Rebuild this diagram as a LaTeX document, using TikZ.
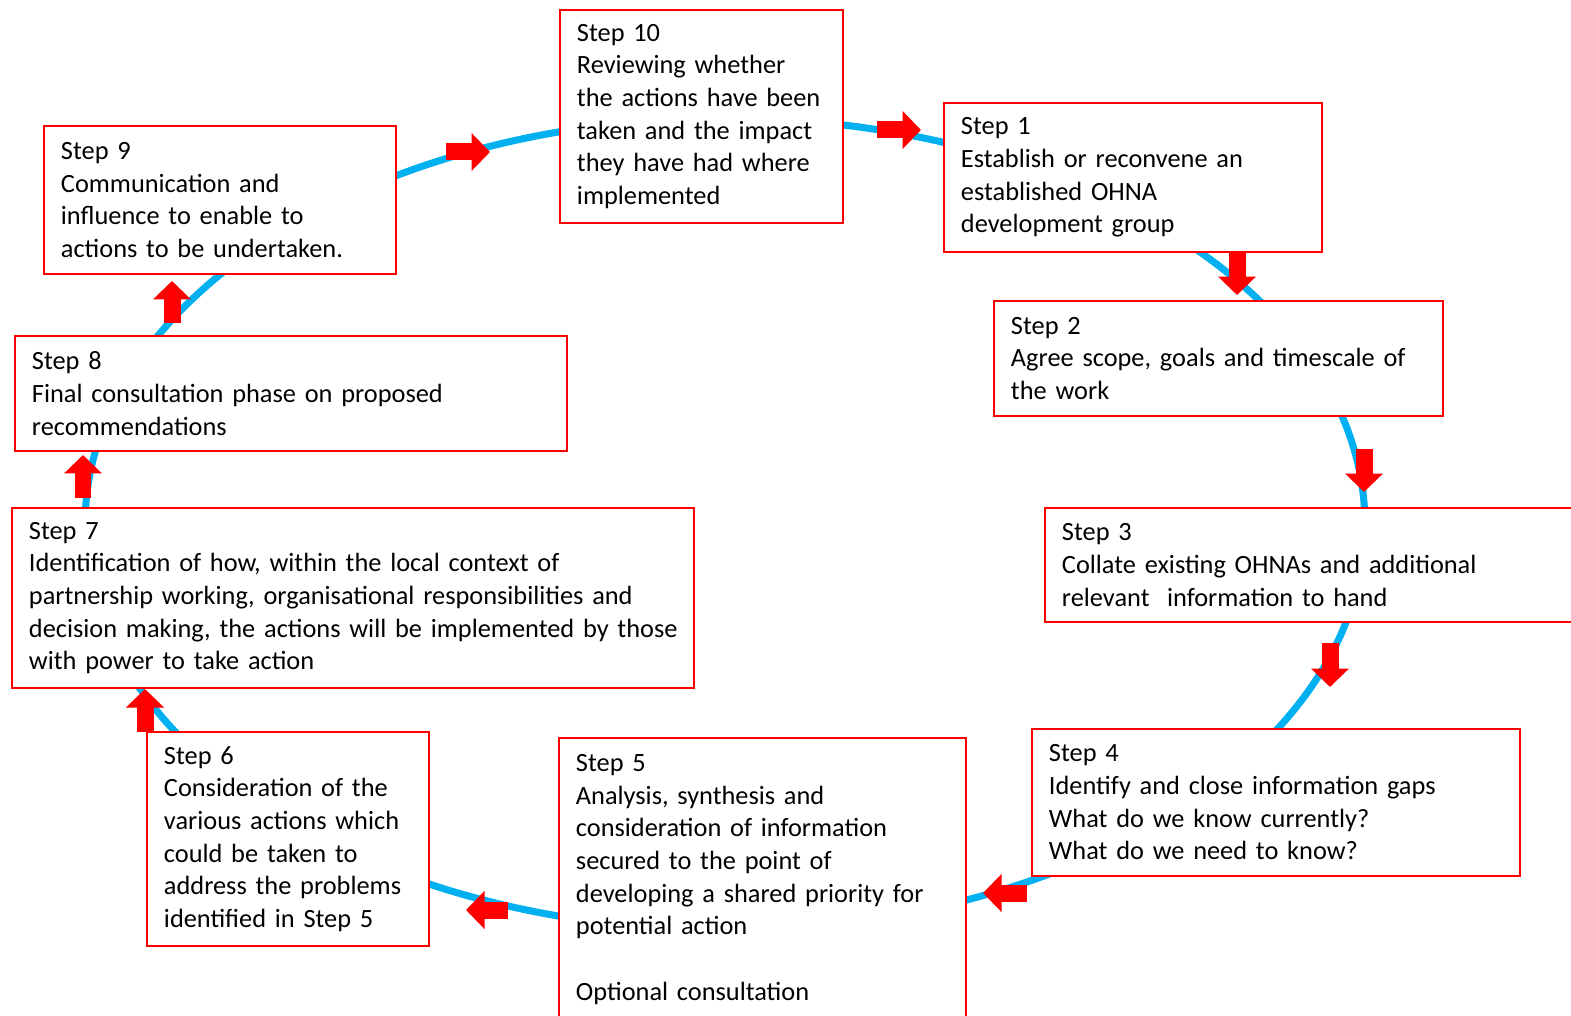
\documentclass[tikz,border=0pt]{standalone}
\usepackage{fontspec}
\setmainfont{Carlito}
\usetikzlibrary{arrows.meta}
\definecolor{cyclecyan}{RGB}{0,176,240}
\begin{document}
\begin{tikzpicture}[x=0.02cm,y=-0.02cm,
    stepbox/.style={draw=red,line width=1.1pt,fill=white,anchor=north west,align=left,
      inner xsep=0.34cm,inner ysep=0pt,font=\fontsize{15}{18.6}\selectfont},
    flow/.style={red,line width=0.34cm,-{Triangle[width=0.74cm,length=0.37cm]}}]
  \useasboundingbox (0,0) rectangle (1571,1016);
  \clip (0,0) rectangle (1571,1016);
  \draw[cyclecyan,line width=4pt] (725,524) ellipse [x radius=12.8cm,y radius=8.12cm];
  \node[stepbox,text width=4.98cm,minimum height=4.26cm] (s10) at (559,9)
    {Step 10\\Reviewing whether\\the actions have been\\taken and the impact\\they have had where\\implemented};
  \node[stepbox,text width=6.88cm,minimum height=2.98cm] (s1) at (943,102)
    {Step 1\\Establish or reconvene an\\established OHNA\\development group};
  \node[stepbox,text width=8.30cm,minimum height=2.30cm] (s2) at (993,300)
    {Step 2\\Agree scope, goals and timescale of\\the work};
  \node[stepbox,text width=10.24cm,minimum height=2.28cm] (s3) at (1044,507)
    {Step 3\\Collate existing OHNAs and additional\\relevant\ \ information to hand};
  \node[stepbox,text width=9.08cm,minimum height=2.94cm] (s4) at (1031,728)
    {Step 4\\Identify and close information gaps\\What do we know currently?\\What do we need to know?};
  \node[stepbox,text width=7.46cm,minimum height=5.66cm] (s5) at (558,737)
    {Step 5\\Analysis, synthesis and\\consideration of information\\secured to the point of\\developing a shared priority for\\potential action\\[18.6pt]Optional consultation};
  \node[stepbox,text width=4.96cm,minimum height=4.28cm] (s6) at (146,731)
    {Step 6\\Consideration of the\\various actions which\\could be taken to\\address the problems\\identified in Step 5};
  \node[stepbox,text width=12.96cm,minimum height=3.60cm] (s7) at (11,507)
    {Step 7\\Identification of how, within the local context of\\partnership working, organisational responsibilities and\\\mbox{decision making, the actions will be implemented by those}\\with power to take action};
  \node[stepbox,text width=10.36cm,minimum height=2.30cm] (s8) at (14,335)
    {Step 8\\Final consultation phase on proposed\\recommendations};
  \node[stepbox,text width=6.36cm,minimum height=2.96cm] (s9) at (43,125)
    {Step 9\\Communication and\\influence to enable to\\actions to be undertaken.};
  \coordinate (t9) at (446,152);  \coordinate (h9) at (490,152);
  \coordinate (t10) at (877,130); \coordinate (h10) at (921,130);
  \coordinate (t1) at (1237,252); \coordinate (h1) at (1237,295);
  \coordinate (t2) at (1364,449); \coordinate (h2) at (1364,492);
  \coordinate (t3) at (1330,643); \coordinate (h3) at (1330,687);
  \coordinate (t4) at (1027,893); \coordinate (h4) at (983,893);
  \coordinate (t5) at (508,910);  \coordinate (h5) at (466,910);
  \coordinate (t6) at (145,732);  \coordinate (h6) at (145,689);
  \coordinate (t7) at (83,498);   \coordinate (h7) at (83,455);
  \coordinate (t8) at (172,323);  \coordinate (h8) at (172,281);
  \begin{scope}[flow]
    \draw (t1) to (h1);
    \draw (t2) to (h2);
    \draw (t3) to (h3);
    \draw (t4) to (h4);
    \draw (t5) to (h5);
    \draw (t6) to (h6);
    \draw (t7) to (h7);
    \draw (t8) to (h8);
    \draw (t9) to (h9);
    \draw (t10) to (h10);
  \end{scope}
\end{tikzpicture}
\end{document}
